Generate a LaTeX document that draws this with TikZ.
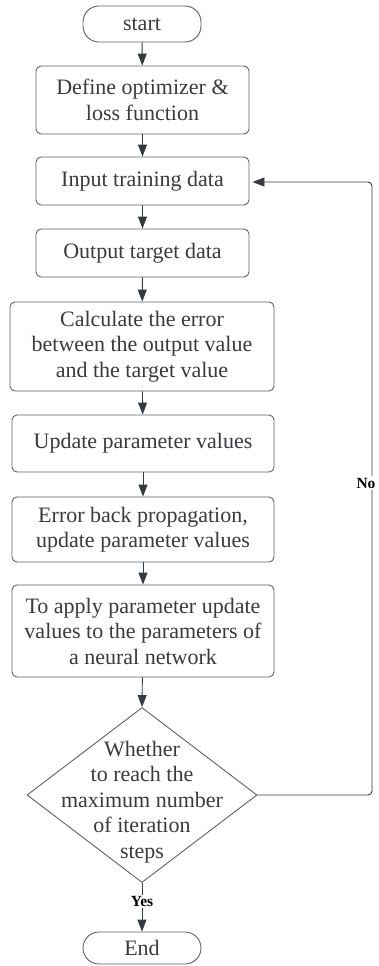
\documentclass[tikz,border=0pt]{standalone}
\usepackage{fontspec}
\setmainfont{Liberation Serif}
\usetikzlibrary{arrows.meta,shapes.geometric}
\definecolor{edge}{HTML}{5E6166}
\definecolor{ink}{HTML}{383A3F}
\definecolor{arrowc}{HTML}{343A42}
\tikzset{
  procbox/.style={draw=edge, line width=0.9pt, rounded corners=5pt, text=ink,
    align=center, inner sep=0pt, font=\fontsize{22}{25.5}\selectfont},
  terminal/.style={procbox, rounded corners=16pt},
  decision/.style={draw=edge, line width=0.9pt, diamond, inner sep=0pt},
  flow/.style={draw=arrowc, line width=0.9pt, -{Triangle[length=12pt,width=9pt]}},
  branch/.style={font=\bfseries\fontsize{15.5}{17}\selectfont, text=black, fill=white, inner sep=1.5pt}
}
\begin{document}
\begin{tikzpicture}[x=1pt,y=-1pt]
\useasboundingbox (0,0) rectangle (378,966);
\node[terminal, minimum width=118pt, minimum height=36pt] (start) at (142,24) {start};
\node[procbox, minimum width=213pt, minimum height=68pt] (define) at (142.5,100) {Define optimizer \&\\loss function};
\node[procbox, minimum width=213pt, minimum height=48pt] (input) at (142.5,181) {Input training data};
\node[procbox, minimum width=213pt, minimum height=48pt] (output) at (142.5,253) {Output target data};
\node[procbox, minimum width=264pt, minimum height=89pt] (calc) at (142,346.5) {Calculate the error\\between the output value\\and the target value};
\node[procbox, minimum width=262pt, minimum height=57pt] (update) at (143,443.5) {Update parameter values};
\node[procbox, minimum width=262pt, minimum height=65pt] (backprop) at (143,529.5) {Error back propagation,\\update parameter values};
\node[procbox, minimum width=262pt, minimum height=92pt] (apply) at (143,631) {To apply parameter update\\values to the parameters of\\a neural network};
\node[decision, minimum width=230pt, minimum height=175pt] (check) at (142,795) {};
\node[text=ink, align=center, font=\fontsize{22}{25.5}\selectfont] (checktext) at (142,802) {Whether\\to reach the\\maximum number\\of iteration\\steps};
\node[terminal, minimum width=118pt, minimum height=32pt] (stop) at (142,948) {End};

\draw[flow] (start) -- (define);
\draw[flow] (define) -- (input);
\draw[flow] (input) -- (output);
\draw[flow] (output) -- (calc);
\draw[flow] (calc) -- (update);
\draw[flow] (update) -- (backprop);
\draw[flow] (backprop) -- (apply);
\draw[flow] (apply) -- (check.north);
\draw[flow] (check.south) -- node[branch, pos=0.38] (yes) {Yes} (stop);

\coordinate (loopbottom) at (372,795);
\coordinate (looptop) at (372,182);
\draw[flow, rounded corners=4pt, shorten >=3pt] (check.east) -- (loopbottom) -- (looptop) -- (input.east |- looptop);
\node[branch] (no) at (366,483) {No};
\end{tikzpicture}
\end{document}
